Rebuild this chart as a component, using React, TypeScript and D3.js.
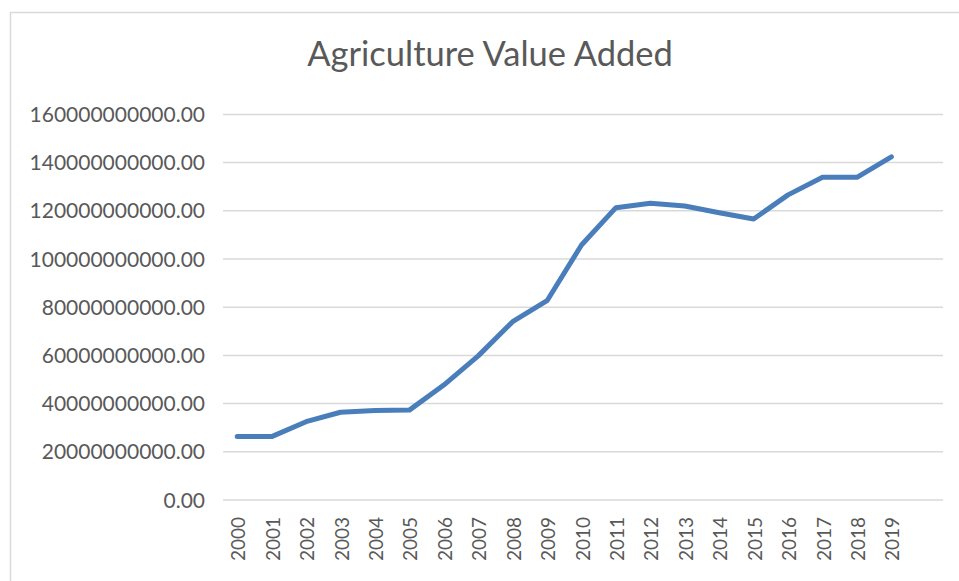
import React from "react";
import * as d3 from "d3";

const years: string[] = [
  "2000", "2001", "2002", "2003", "2004", "2005", "2006", "2007", "2008", "2009",
  "2010", "2011", "2012", "2013", "2014", "2015", "2016", "2017", "2018", "2019",
];

// Agriculture value added, in units of 1e9
const valuesBn: number[] = [
  26.3, 26.3, 32.5, 36.4, 37.1, 37.3, 47.7, 59.8, 74.0, 82.7,
  105.8, 121.3, 123.1, 122.0, 119.2, 116.6, 126.6, 133.9, 133.9, 142.4,
];

const yTicks: number[] = [0, 20, 40, 60, 80, 100, 120, 140, 160];

const title = "Agriculture Value Added";

const W = 959;
const H = 581;
const plot = { left: 220, right: 943, top: 114.4, bottom: 500 };
const FONT = "Lato, 'Open Sans', sans-serif";

export default function App() {
  // one trailing empty slot on the category axis
  const domain = [...years, ""];
  const x = d3
    .scaleBand<string>()
    .domain(domain)
    .range([plot.left, plot.right]);
  const cx = (c: string) => (x(c) ?? 0) + x.bandwidth() / 2;

  const y = d3.scaleLinear().domain([0, 160]).range([plot.bottom, plot.top]);

  const line = d3
    .line<number>()
    .x((_, i) => cx(years[i]))
    .y((v) => y(v));

  const fmt = (v: number) => (v * 1e9).toFixed(2);

  return (
    <svg
      width={W}
      height={H}
      style={{ position: "absolute", left: 0, top: 0, background: "#fff" }}
    >
      <rect x={0} y={0} width={W} height={H} fill="#fff" />
      {/* chart frame */}
      <rect
        x={10.5}
        y={12.5}
        width={W + 20}
        height={H + 20}
        fill="none"
        stroke="#d9d9d9"
        strokeWidth={1.5}
      />
      <text
        x={490}
        y={66}
        textAnchor="middle"
        fontFamily={FONT}
        fontSize={34.5}
        fill="#595959"
      >
        {title}
      </text>
      {yTicks.map((t) => (
        <g key={t}>
          <line
            x1={plot.left + 3}
            x2={plot.right}
            y1={y(t)}
            y2={y(t)}
            stroke="#d9d9d9"
            strokeWidth={1.5}
          />
          <text
            x={205}
            y={y(t) + 7.5}
            textAnchor="end"
            fontFamily={FONT}
            fontSize={21}
            fill="#595959"
          >
            {fmt(t)}
          </text>
        </g>
      ))}
      {years.map((yr) => (
        <text
          key={yr}
          transform={`translate(${cx(yr) + 8},${517}) rotate(-90)`}
          textAnchor="end"
          fontFamily={FONT}
          fontSize={19}
          fill="#595959"
        >
          {yr}
        </text>
      ))}
      <path
        d={line(valuesBn) ?? ""}
        fill="none"
        stroke="#4a7ebb"
        strokeWidth={5}
        strokeLinejoin="round"
        strokeLinecap="round"
      />
    </svg>
  );
}
